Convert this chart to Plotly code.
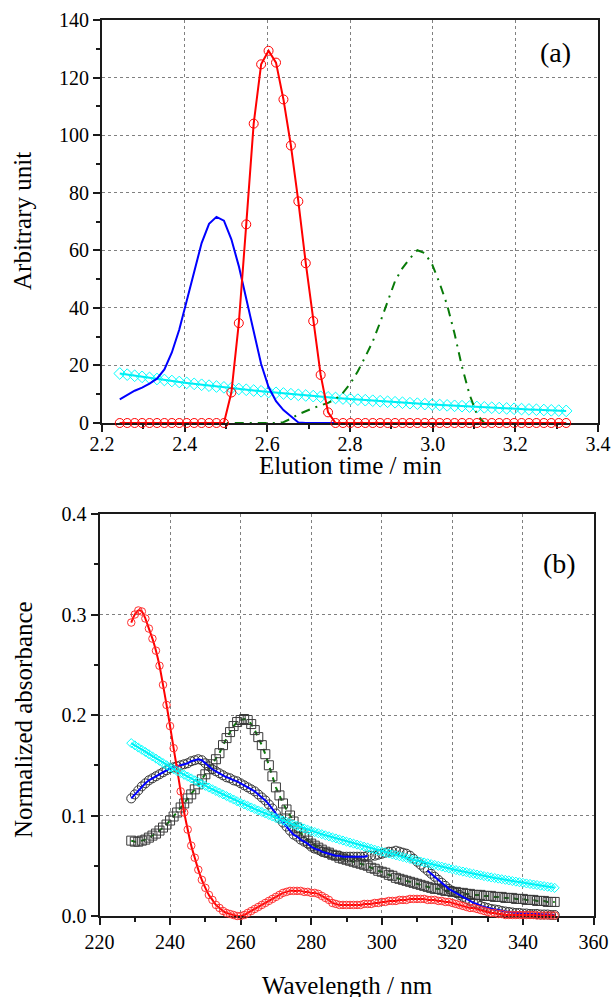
import plotly.graph_objects as go

# ---------------- Panel (a): elution profiles ----------------
time_min = [2.243, 2.261, 2.279, 2.297, 2.315, 2.333, 2.351, 2.369, 2.387, 2.405,
            2.423, 2.441, 2.459, 2.477, 2.495, 2.513, 2.531, 2.549, 2.567, 2.585,
            2.603, 2.621, 2.639, 2.657, 2.675, 2.693, 2.711, 2.729, 2.747, 2.765,
            2.783, 2.801, 2.819, 2.837, 2.855, 2.873, 2.891, 2.909, 2.927, 2.945,
            2.963, 2.981, 2.999, 3.017, 3.035, 3.053, 3.071, 3.089, 3.107, 3.125,
            3.143, 3.161, 3.179, 3.197, 3.215, 3.233, 3.251, 3.269, 3.287, 3.305,
            3.323]

elu_blue = [8.2, 9.8, 11.2, 12.3, 13.7, 15.4, 18.6, 24.5, 32.5, 42.5,
            53.0, 62.5, 69.2, 71.6, 70.3, 63.8, 54.5, 43.0, 31.0, 20.5,
            12.5, 7.6, 4.5, 2.2, 0.2, 0, 0, 0, 0, 0,
            0, 0, 0, 0, 0, 0, 0, 0, 0, 0,
            0, 0, 0, 0, 0, 0, 0, 0, 0, 0,
            0, 0, 0, 0, 0, 0, 0, 0, 0, 0,
            0]

elu_red = [0, 0, 0, 0, 0, 0, 0, 0, 0, 0,
           0, 0, 0, 0, 0, 10.6, 34.7, 69.0, 104.0, 124.6,
           129.3, 125.2, 112.4, 96.4, 77.0, 55.5, 35.4, 16.7, 3.7, 0,
           0, 0, 0, 0, 0, 0, 0, 0, 0, 0,
           0, 0, 0, 0, 0, 0, 0, 0, 0, 0,
           0, 0, 0, 0, 0, 0, 0, 0, 0, 0,
           0]

elu_green = [0, 0, 0, 0, 0, 0, 0, 0, 0, 0,
             0, 0, 0, 0, 0, 0, 0, 0, 0, 0,
             0, 0, 0.3, 1.5, 3.0, 4.2, 5.2, 6.1, 7.0, 8.3,
             10.5, 13.7, 18.0, 23.0, 28.3, 35.0, 42.5, 49.3, 53.8, 57.2,
             60.0, 59.0, 55.0, 48.5, 41.0, 31.0, 19.5, 10.0, 3.0, 0,
             0, 0, 0, 0, 0, 0, 0, 0, 0, 0,
             0]

elu_cyan = [17.20, 16.80, 16.41, 16.03, 15.66, 15.29, 14.94, 14.59, 14.25, 13.92,
            13.60, 13.28, 12.97, 12.67, 12.38, 12.09, 11.81, 11.54, 11.27, 11.01,
            10.75, 10.50, 10.26, 10.02, 9.79, 9.56, 9.34, 9.12, 8.91, 8.70,
            8.50, 8.30, 8.11, 7.92, 7.74, 7.56, 7.38, 7.21, 7.04, 6.88,
            6.72, 6.56, 6.41, 6.26, 6.12, 5.97, 5.84, 5.70, 5.57, 5.44,
            5.31, 5.19, 5.07, 4.95, 4.84, 4.72, 4.61, 4.51, 4.40, 4.30,
            4.20]

# ---------------- Panel (b): spectra ----------------
wavelength = list(range(229, 350))

abs_red = [0.292, 0.300, 0.304, 0.303, 0.296, 0.286, 0.276, 0.264, 0.249, 0.230,
           0.210, 0.189, 0.167, 0.146, 0.124, 0.103, 0.086, 0.070, 0.058, 0.046,
           0.036, 0.028, 0.021, 0.016, 0.011, 0.008, 0.005, 0.003, 0.002, 0.001,
           0.000, 0.000, 0.001, 0.003, 0.005, 0.007, 0.009, 0.011, 0.013, 0.015,
           0.017, 0.019, 0.021, 0.023, 0.024, 0.025, 0.025, 0.025, 0.025, 0.024,
           0.024, 0.023, 0.023, 0.022, 0.020, 0.018, 0.016, 0.013, 0.012, 0.011,
           0.011, 0.011, 0.011, 0.011, 0.011, 0.011, 0.012, 0.012, 0.012, 0.013,
           0.013, 0.014, 0.014, 0.015, 0.015, 0.015, 0.016, 0.016, 0.016, 0.017,
           0.017, 0.017, 0.017, 0.017, 0.016, 0.016, 0.016, 0.015, 0.015, 0.014,
           0.014, 0.013, 0.012, 0.011, 0.010, 0.009, 0.008, 0.008, 0.007, 0.006,
           0.005, 0.004, 0.003, 0.003, 0.002, 0.002, 0.001, 0.001, 0.001, 0.001,
           0.001, 0.001, 0.001, 0.001, 0.001, 0.0005, 0.0005, 0.0005, 0.0005, 0.0005,
           0.0005]

abs_black = [0.117, 0.121, 0.125, 0.129, 0.132, 0.135, 0.137, 0.139, 0.141, 0.143,
             0.145, 0.147, 0.148, 0.149, 0.150, 0.151, 0.152, 0.154, 0.155, 0.156,
             0.155, 0.152, 0.149, 0.146, 0.144, 0.142, 0.140, 0.138, 0.137, 0.135,
             0.134, 0.132, 0.130, 0.128, 0.126, 0.124, 0.121, 0.118, 0.115, 0.111,
             0.107, 0.102, 0.097, 0.093, 0.089, 0.085, 0.081, 0.079, 0.076, 0.074,
             0.072, 0.069, 0.067, 0.066, 0.064, 0.063, 0.062, 0.061, 0.060, 0.060,
             0.059, 0.059, 0.059, 0.059, 0.059, 0.059, 0.059, 0.060, 0.060, 0.060,
             0.061, 0.062, 0.063, 0.064, 0.064, 0.065, 0.064, 0.063, 0.062, 0.060,
             0.057, 0.054, 0.051, 0.048, 0.045, 0.042, 0.039, 0.036, 0.033, 0.030,
             0.027, 0.025, 0.023, 0.021, 0.019, 0.017, 0.015, 0.013, 0.012, 0.010,
             0.009, 0.008, 0.007, 0.0065, 0.006, 0.005, 0.0045, 0.004, 0.0035, 0.003,
             0.003, 0.0025, 0.0025, 0.002, 0.002, 0.002, 0.0015, 0.0015, 0.0015, 0.001,
             0.001]

abs_square = [0.075, 0.074, 0.074, 0.075, 0.076, 0.078, 0.080, 0.082, 0.085, 0.088,
              0.091, 0.095, 0.099, 0.103, 0.108, 0.112, 0.117, 0.121, 0.126, 0.131,
              0.136, 0.141, 0.146, 0.151, 0.156, 0.162, 0.170, 0.177, 0.183, 0.189,
              0.193, 0.195, 0.196, 0.195, 0.191, 0.185, 0.178, 0.170, 0.161, 0.150,
              0.139, 0.128, 0.120, 0.112, 0.106, 0.100, 0.094, 0.088, 0.083, 0.079,
              0.075, 0.072, 0.070, 0.068, 0.066, 0.064, 0.063, 0.061, 0.060, 0.058,
              0.057, 0.056, 0.055, 0.054, 0.053, 0.052, 0.051, 0.050, 0.048, 0.047,
              0.045, 0.044, 0.043, 0.041, 0.040, 0.038, 0.037, 0.036, 0.035, 0.034,
              0.033, 0.032, 0.031, 0.030, 0.029, 0.028, 0.027, 0.027, 0.026, 0.025,
              0.025, 0.024, 0.024, 0.023, 0.023, 0.022, 0.022, 0.021, 0.021, 0.021,
              0.020, 0.020, 0.020, 0.019, 0.019, 0.019, 0.018, 0.018, 0.018, 0.017,
              0.017, 0.017, 0.016, 0.016, 0.016, 0.015, 0.015, 0.015, 0.014, 0.014,
              0.014]

abs_cyan = [0.1720, 0.1698, 0.1676, 0.1654, 0.1632, 0.1610, 0.1588, 0.1566, 0.1544, 0.1522,
            0.1500, 0.1480, 0.1461, 0.1442, 0.1424, 0.1405, 0.1387, 0.1369, 0.1350, 0.1332,
            0.1313, 0.1295, 0.1278, 0.1261, 0.1244, 0.1227, 0.1210, 0.1193, 0.1176, 0.1159,
            0.1142, 0.1125, 0.1110, 0.1095, 0.1080, 0.1065, 0.1050, 0.1035, 0.1020, 0.1005,
            0.0990, 0.0975, 0.0962, 0.0949, 0.0936, 0.0923, 0.0910, 0.0897, 0.0884, 0.0871,
            0.0858, 0.0845, 0.0835, 0.0824, 0.0814, 0.0803, 0.0793, 0.0782, 0.0772, 0.0761,
            0.0751, 0.0740, 0.0730, 0.0720, 0.0710, 0.0700, 0.0690, 0.0680, 0.0670, 0.0660,
            0.0650, 0.0640, 0.0631, 0.0622, 0.0613, 0.0604, 0.0595, 0.0586, 0.0577, 0.0568,
            0.0559, 0.0550, 0.0542, 0.0533, 0.0525, 0.0516, 0.0508, 0.0499, 0.0491, 0.0482,
            0.0474, 0.0465, 0.0457, 0.0450, 0.0442, 0.0435, 0.0427, 0.0420, 0.0412, 0.0405,
            0.0397, 0.0390, 0.0384, 0.0378, 0.0372, 0.0366, 0.0360, 0.0354, 0.0348, 0.0342,
            0.0336, 0.0330, 0.0324, 0.0319, 0.0313, 0.0308, 0.0302, 0.0297, 0.0291, 0.0286,
            0.0280]

# the blue fit line is not drawn over 297-312 nm
blue_gap = (297, 312)
abs_blue_line = [None if blue_gap[0] <= w <= blue_gap[1] else v
                 for w, v in zip(wavelength, abs_black)]

FONT = "'Liberation Serif', 'Times New Roman', Times, serif"
AXC = "#1a1a1a"

fig = go.Figure()

# ---- panel (a) traces ----
fig.add_trace(go.Scatter(x=time_min, y=elu_cyan, mode="lines+markers",
                         line=dict(color="#00e8f0", width=2),
                         marker=dict(symbol="diamond-open", size=9, color="#00ffff",
                                     line=dict(width=1, color="#00ffff")),
                         cliponaxis=False, xaxis="x", yaxis="y", showlegend=False))
fig.add_trace(go.Scatter(x=time_min, y=elu_blue, mode="lines",
                         line=dict(color="#0000ff", width=2),
                         cliponaxis=False, xaxis="x", yaxis="y", showlegend=False))
fig.add_trace(go.Scatter(x=time_min, y=elu_green, mode="lines",
                         line=dict(color="#087a08", width=2, dash="9px,6px,2px,6px"),
                         xaxis="x", yaxis="y", showlegend=False))
fig.add_trace(go.Scatter(x=time_min, y=elu_red, mode="lines+markers",
                         line=dict(color="#ff0000", width=2),
                         marker=dict(symbol="circle-open", size=9, color="#ff0000",
                                     line=dict(width=1, color="#ff0000")),
                         cliponaxis=False, xaxis="x", yaxis="y", showlegend=False))

# ---- panel (b) traces ----
fig.add_trace(go.Scatter(x=wavelength, y=abs_square, mode="lines+markers",
                         line=dict(color="#0a7a0a", width=2, dash="5px,5px"),
                         marker=dict(symbol="square-open", size=9, color="#3a3a3a",
                                     line=dict(width=1, color="#3a3a3a")),
                         cliponaxis=False, xaxis="x2", yaxis="y2", showlegend=False))
fig.add_trace(go.Scatter(x=wavelength, y=abs_black, mode="markers",
                         marker=dict(symbol="circle-open", size=9, color="#333333",
                                     line=dict(width=1, color="#333333")),
                         cliponaxis=False, xaxis="x2", yaxis="y2", showlegend=False))
fig.add_trace(go.Scatter(x=wavelength, y=abs_blue_line, mode="lines",
                         line=dict(color="#0000ff", width=2), connectgaps=False,
                         cliponaxis=False, xaxis="x2", yaxis="y2", showlegend=False))
fig.add_trace(go.Scatter(x=wavelength, y=abs_red, mode="lines+markers",
                         line=dict(color="#ff0000", width=2, shape="spline", smoothing=0.6),
                         marker=dict(symbol="circle-open", size=7.5, color="#ff3030",
                                     line=dict(width=1, color="#ff3030")),
                         cliponaxis=False, xaxis="x2", yaxis="y2", showlegend=False))
fig.add_trace(go.Scatter(x=wavelength, y=abs_cyan, mode="lines+markers",
                         line=dict(color="#00e8f0", width=2),
                         marker=dict(symbol="diamond-open", size=7, color="#00ffff",
                                     line=dict(width=1, color="#00ffff")),
                         cliponaxis=False, xaxis="x2", yaxis="y2", showlegend=False))


def axis(rng, dtick, minor_dtick, domain, anchor, fmt=None, standoff=0):
    d = dict(range=rng, dtick=dtick, tick0=rng[0], domain=domain, anchor=anchor,
             automargin=False,
             showline=True, linewidth=2, linecolor=AXC, mirror=True,
             ticks="outside", ticklen=7, tickwidth=1.5, tickcolor=AXC,
             ticklabelstandoff=standoff,
             showgrid=True, gridcolor="#808080", gridwidth=1, griddash="dot",
             zeroline=False,
             tickfont=dict(family=FONT, size=20, color="black"),
             minor=dict(ticks="outside", ticklen=4, tickwidth=1.5, tickcolor=AXC,
                        dtick=minor_dtick, tick0=rng[0], showgrid=False),
             layer="below traces")
    if fmt:
        d["tickformat"] = fmt
    return d


W, H = 612, 997


def fx(px):
    return px / W


def fy(py):
    return 1 - py / H


top_x = [fx(102), fx(598)]
top_y = [fy(423), fy(20)]
bot_x = [fx(99.5), fx(593.5)]
bot_y = [fy(916), fy(514)]

fig.update_layout(
    width=W, height=H,
    margin=dict(l=0, r=0, t=0, b=0, autoexpand=False),
    paper_bgcolor="white", plot_bgcolor="white",
    font=dict(family=FONT, color="black"),
    xaxis=axis([2.2, 3.4], 0.2, 0.1, top_x, "y", ".1f", standoff=-5),
    yaxis=axis([0, 140], 20, 10, top_y, "x"),
    xaxis2=axis([220, 360], 20, 10, bot_x, "y2"),
    yaxis2=axis([0, 0.4], 0.1, 0.05, bot_y, "x2", ".1f"),
    annotations=[
        dict(text="Arbitrary unit", x=fx(23), y=fy(221), xref="paper", yref="paper",
             textangle=-90, showarrow=False, xanchor="center", yanchor="middle",
             font=dict(family=FONT, size=25, color="black")),
        dict(text="Elution time / min", x=fx(350), y=fy(466), xref="paper", yref="paper",
             showarrow=False, xanchor="center", yanchor="middle",
             font=dict(family=FONT, size=25, color="black")),
        dict(text="(a)", x=fx(555), y=fy(53), xref="paper", yref="paper",
             showarrow=False, xanchor="center", yanchor="middle",
             font=dict(family=FONT, size=28, color="black")),
        dict(text="Normalized absorbance", x=fx(23), y=fy(720), xref="paper", yref="paper",
             textangle=-90, showarrow=False, xanchor="center", yanchor="middle",
             font=dict(family=FONT, size=25, color="black")),
        dict(text="Wavelength / nm", x=fx(347), y=fy(985), xref="paper", yref="paper",
             showarrow=False, xanchor="center", yanchor="middle",
             font=dict(family=FONT, size=25, color="black")),
        dict(text="(b)", x=fx(559), y=fy(563), xref="paper", yref="paper",
             showarrow=False, xanchor="center", yanchor="middle",
             font=dict(family=FONT, size=28, color="black")),
    ],
)

# place the figure at the page origin (no default body margin / scrollbars)
fig.write_html("out.html",
               config={"displayModeBar": False},
               post_script="document.body.style.margin='0';"
                           "document.body.style.overflow='hidden';")
